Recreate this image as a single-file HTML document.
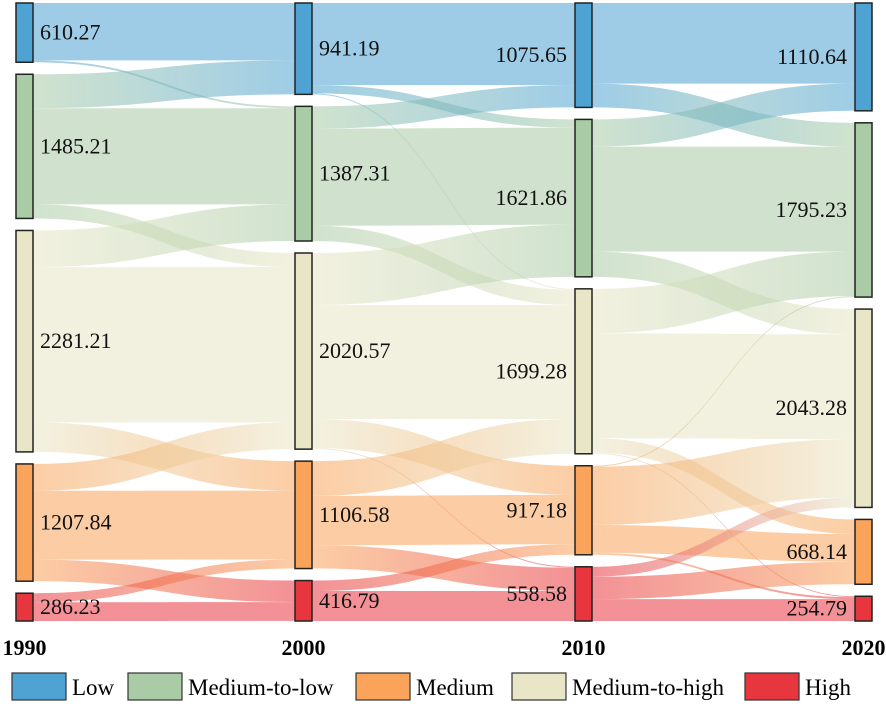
<!DOCTYPE html>
<html><head><meta charset="utf-8"><style>
body{margin:0;background:#fff;}
svg{display:block;}
text{font-family:"Liberation Serif","Times New Roman",serif;}
</style></head><body>
<svg id="chart" width="886" height="706" viewBox="0 0 886 706" xmlns="http://www.w3.org/2000/svg" font-family="Liberation Serif, serif">
<defs id="defs"></defs>
<g id="links"></g>
<g id="nodes"></g>
<g id="labels"></g>
<g id="years"></g>
<g id="legend"></g>
</svg>
<script>
const years = ["1990","2000","2010","2020"];
const categories = ["Low","Medium-to-low","Medium-to-high","Medium","High"];
const legendOrder = [0,1,3,2,4];
const colors = ["#4ea3d2","#a9cba5","#e8e6c6","#f9a45a","#e8363f"];
const nodeValues1990 = [610.27,1485.21,2281.21,1207.84,286.23];
const nodeValues2000 = [941.19,1387.31,2020.57,1106.58,416.79];
const nodeValues2010 = [1075.65,1621.86,1699.28,917.18,558.58];
const nodeValues2020 = [1110.64,1795.23,2043.28,668.14,254.79];
// flows [sourceIndex, targetIndex, value]
const flows1990to2000 = [[0,0,591],[0,1,19.27],[1,0,350],[1,1,990.73],[1,2,144.48],[2,1,377.31],[2,2,1600],[2,3,303.9],[3,2,276.09],[3,3,709.71],[3,4,222.04],[4,3,92.97],[4,4,193.26]];
const flows2000to2010 = [[0,0,845.65],[0,1,85.54],[0,2,10],[1,0,230],[1,1,1000],[1,2,157.31],[2,1,536.32],[2,2,1174.25],[2,3,300],[2,4,10],[3,2,357.72],[3,3,508.86],[3,4,240],[4,3,108.32],[4,4,308.47]];
const flows2010to2020 = [[0,0,830.64],[0,1,245.01],[1,0,280],[1,1,1081.86],[1,2,260],[2,1,458.36],[2,2,1080.92],[2,3,150],[2,4,10],[3,1,10],[3,2,600],[3,3,287.18],[3,4,20],[4,2,102.36],[4,3,230.96],[4,4,225.26]];

const NS="http://www.w3.org/2000/svg";
const FONT='"Liberation Serif", "Times New Roman", serif';
const cols=[nodeValues1990,nodeValues2000,nodeValues2010,nodeValues2020];
const flows=[flows1990to2000,flows2000to2010,flows2010to2020];
const colX=[16,295,575,855], NW=17, TOP=3, BOT=621;
const k=(BOT-TOP-48)/5872;
function el(t,a){const e=document.createElementNS(NS,t);for(const n in a)e.setAttribute(n,a[n]);return e;}
const layout=cols.map(vals=>{const tot=vals.reduce((a,b)=>a+b,0);const gap=(BOT-TOP-tot*k)/4;let y=TOP;return vals.map(v=>{const n={y0:y,h:v*k};y+=v*k+gap;return n;});});
const defs=document.getElementById('defs');
const gL=document.getElementById('links');
flows.forEach((fl,c)=>{
  const sOff=layout[c].map(n=>n.y0), tOff=layout[c+1].map(n=>n.y0);
  const bySrc=[...fl].sort((a,b)=>a[0]-b[0]||a[1]-b[1]);
  const sPos=new Map();bySrc.forEach(f=>{sPos.set(f,sOff[f[0]]);sOff[f[0]]+=f[2]*k;});
  const byTgt=[...fl].sort((a,b)=>a[1]-b[1]||a[0]-b[0]);
  const tPos=new Map();byTgt.forEach(f=>{tPos.set(f,tOff[f[1]]);tOff[f[1]]+=f[2]*k;});
  fl.forEach((f,i)=>{
    const x0=colX[c]+NW,x1=colX[c+1],w=f[2]*k,ys=sPos.get(f),yt=tPos.get(f),xm=(x0+x1)/2;
    const id='g'+c+'_'+i;
    const g=el('linearGradient',{id:id,gradientUnits:'userSpaceOnUse',x1:x0,y1:0,x2:x1,y2:0});
    g.appendChild(el('stop',{offset:'0','stop-color':colors[f[0]]}));
    g.appendChild(el('stop',{offset:'1','stop-color':colors[f[1]]}));
    defs.appendChild(g);
    const d=`M${x0},${ys}C${xm},${ys} ${xm},${yt} ${x1},${yt}L${x1},${yt+w}C${xm},${yt+w} ${xm},${ys+w} ${x0},${ys+w}Z`;
    const p=el('path',{d:d,fill:`url(#${id})`,'fill-opacity':'0.55'});
    
    
    gL.appendChild(p);
  });
});
const gN=document.getElementById('nodes'),gT=document.getElementById('labels');
layout.forEach((col,c)=>{col.forEach((n,i)=>{
  const r=el('rect',{x:colX[c],y:n.y0,width:NW,height:n.h,fill:colors[i],stroke:'#222','stroke-width':1.5});
  
  
  gN.appendChild(r);
  const right=c<2;
  const t=el('text',{x:right?colX[c]+NW+7:colX[c]-8,y:n.y0+n.h/2+7,'font-size':22,fill:'#111','text-anchor':right?'start':'end','font-family':FONT});
  t.textContent=cols[c][i].toFixed(2);
  
  
  gT.appendChild(t);
});});
const gY=document.getElementById('years');
years.forEach((y,c)=>{
  const t=el('text',{x:Math.min(Math.max(colX[c]+NW/2,22),864),y:655,'font-size':22,'font-weight':'bold','text-anchor':'middle',fill:'#000','font-family':FONT});
  t.textContent=y;
  
  
  gY.appendChild(t);
});
const gLe=document.getElementById('legend');
const legBoxX=[12,128,356,512,745];
legendOrder.forEach((ci,j)=>{
  const r=el('rect',{x:legBoxX[j],y:673,width:54,height:27,fill:colors[ci],stroke:'#333','stroke-width':1.2});
  
  
  gLe.appendChild(r);
  const t=el('text',{x:legBoxX[j]+60,y:695,'font-size':23,fill:'#000','font-family':FONT});
  t.textContent=categories[ci];
  
  
  gLe.appendChild(t);
});
</script>
</body></html>
